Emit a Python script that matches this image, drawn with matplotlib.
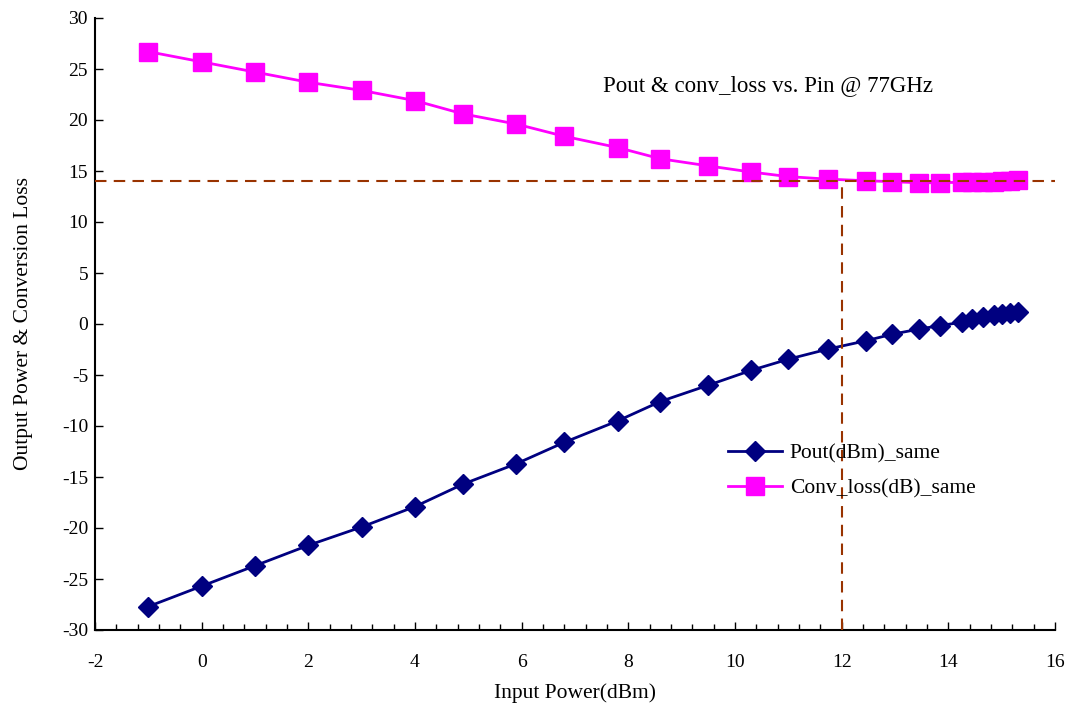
import matplotlib
matplotlib.use("Agg")
import matplotlib.pyplot as plt
from matplotlib.ticker import MultipleLocator

pin = [-1, 0, 1, 2, 3, 4, 4.9, 5.9, 6.8, 7.8, 8.6, 9.5, 10.3, 11.0, 11.75, 12.45,
       12.95, 13.45, 13.85, 14.25, 14.45, 14.65, 14.85, 15.0, 15.15, 15.3]
pout = [-27.7, -25.7, -23.7, -21.7, -19.9, -17.9, -15.7, -13.7, -11.6, -9.5, -7.6,
        -6.0, -4.55, -3.45, -2.45, -1.65, -1.0, -0.5, -0.15, 0.17, 0.45, 0.65,
        0.85, 0.95, 1.05, 1.15]
conv_loss = [26.7, 25.7, 24.7, 23.7, 22.9, 21.9, 20.6, 19.6, 18.4, 17.3, 16.2,
             15.5, 14.9, 14.45, 14.2, 14.05, 13.95, 13.85, 13.85, 13.9, 13.95,
             13.95, 13.95, 14.0, 14.05, 14.1]
ref_pin = 12
ref_loss = 14

plt.rcParams['font.family'] = ['Liberation Serif', 'DejaVu Serif']
plt.rcParams['axes.unicode_minus'] = False

fig = plt.figure(figsize=(10.75, 7.08), dpi=100)
ax = fig.add_axes([95/1075, 1-630/708, 960/1075, 612/708])

ax.plot(pin, pout, color='#000080', lw=2, marker='D', ms=10, mec='#000080',
        label='Pout(dBm)_same', zorder=3)
ax.plot(pin, conv_loss, color='#FF00FF', lw=2, marker='s', ms=13, mec='#FF00FF',
        label='Conv_loss(dB)_same', zorder=3)

dash_col = '#993300'
ax.axhline(ref_loss, color=dash_col, lw=1.5, ls=(0, (5.5, 3.5)), zorder=4)
ax.plot([ref_pin, ref_pin], [-30, ref_loss], color=dash_col, lw=1.5,
        ls=(0, (5.5, 3.5)), zorder=4)

ax.set_xlim(-2, 16)
ax.set_ylim(-30, 30)
ax.xaxis.set_major_locator(MultipleLocator(2))
ax.xaxis.set_minor_locator(MultipleLocator(0.4))
ax.yaxis.set_major_locator(MultipleLocator(5))
ax.tick_params(axis='both', which='major', direction='in', length=6, width=1,
               labelsize=14)
ax.tick_params(axis='x', which='minor', direction='in', length=4, width=1)
ax.tick_params(axis='x', pad=17)
ax.tick_params(axis='y', pad=5)
for s in ['top', 'right']:
    ax.spines[s].set_visible(False)
for s in ['left', 'bottom']:
    ax.spines[s].set_linewidth(1.5)

ax.set_xlabel('Input Power(dBm)', fontsize=15.5, labelpad=9)
ax.set_ylabel('Output Power & Conversion Loss', fontsize=15.5, labelpad=21)

ax.text(768/1075, 1-86/708, 'Pout & conv_loss vs. Pin @ 77GHz',
        transform=fig.transFigure, ha='center', va='center', fontsize=16.5)

ax.legend(loc='upper left', bbox_to_anchor=((709-95)/960, (630-424)/612),
          frameon=False, fontsize=15.5, handlelength=2.5, labelspacing=0.7,
          handletextpad=0.35, markerscale=1.05)

fig.savefig('out.png', dpi=100)
